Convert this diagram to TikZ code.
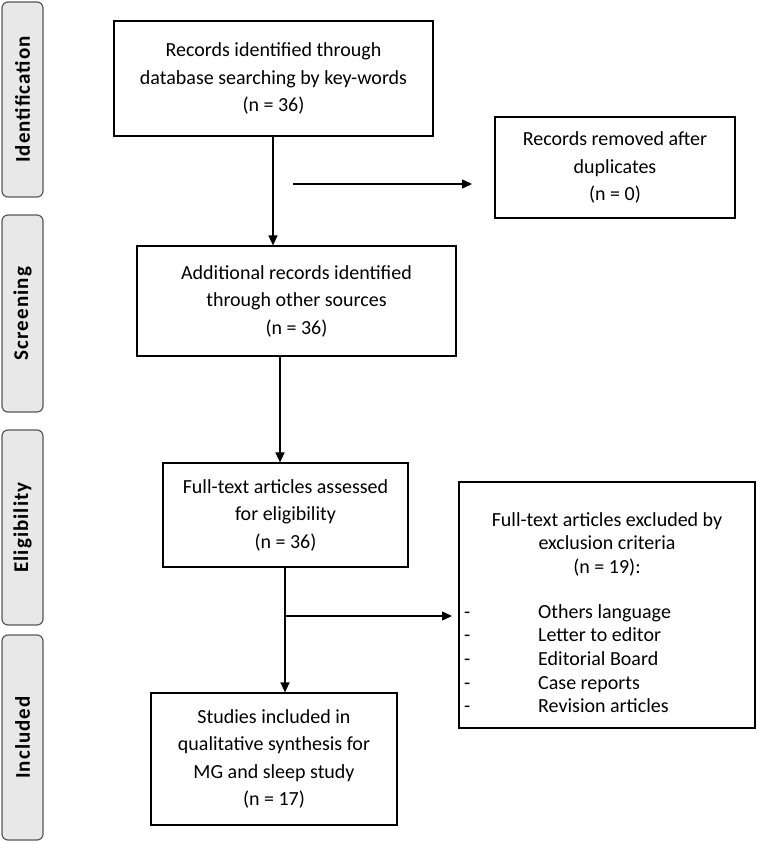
\documentclass[tikz,border=0pt]{standalone}
\usepackage{fontspec}
\setmainfont{Carlito}
\newfontfamily\phasefont[LetterSpace=5]{Carlito}
\usetikzlibrary{arrows.meta}
\begin{document}
\begin{tikzpicture}[x=1pt,y=-1pt,
  box/.style={draw=black,line width=1.2pt,align=center,inner sep=0pt,font=\fontsize{20}{27.5}\selectfont},
  phase/.style={draw=black!65,fill=black!9,line width=1.2pt,rounded corners=6pt,rotate=90,inner sep=0pt,minimum height=41pt,font=\phasefont\bfseries\fontsize{21}{24}\selectfont},
  txt/.style={inner sep=0pt,font=\fontsize{20}{23.7}\selectfont},
  arr/.style={line width=1.4pt,-{Triangle[length=10pt,width=9pt]}}]
\useasboundingbox (0,0) rectangle (756,842);
% phase labels
\node[phase,minimum width=195pt] (pid) at (22.5,99.5) {Identification};
\node[phase,minimum width=197pt] (psc) at (22.5,313.5) {Screening};
\node[phase,minimum width=195pt] (pel) at (22.5,527.5) {Eligibility};
\node[phase,minimum width=205pt] (pin) at (22.5,737.5) {Included};
% boxes
\node[box,minimum width=319pt,minimum height=115pt] (b1) at (273.5,78.5) {Records identified through\\database searching by key-words\\(n = 36)};
\node[box,minimum width=240pt,minimum height=101pt] (dup) at (615,167.5) {Records removed after\\duplicates\\(n = 0)};
\node[box,minimum width=319pt,minimum height=110pt] (scr) at (296.5,301) {Additional records identified\\through other sources\\(n = 36)};
\node[box,minimum width=245pt,minimum height=104pt] (elig) at (285.5,515) {Full-text articles assessed\\for eligibility\\(n = 36)};
\node[box,minimum width=296pt,minimum height=246pt] (excl) at (607,605) {};
\node[txt,align=center,anchor=north] (exh) at (607,512) {Full-text articles excluded by\\exclusion criteria\\(n = 19):};
\node[txt,align=left,anchor=north west] (exl) at (461,604) {\makebox[77pt][l]{\hspace{3pt}-}Others language\\\makebox[77pt][l]{\hspace{3pt}-}Letter to editor\\\makebox[77pt][l]{\hspace{3pt}-}Editorial Board\\\makebox[77pt][l]{\hspace{3pt}-}Case reports\\\makebox[77pt][l]{\hspace{3pt}-}Revision articles};
\node[box,minimum width=246pt,minimum height=132pt] (incl) at (274,759) {Studies included in\\qualitative synthesis for\\MG and sleep study\\(n = 17)};
% connectors
\coordinate (v1) at (273,0);
\coordinate (h1a) at (293,184);
\coordinate (h1b) at (472,184);
\coordinate (s2) at (280,356);
\coordinate (br) at (285,616);
\coordinate (brb) at (452,616);
\draw[arr] (b1.south -| v1) -- (v1 |- scr.north);
\draw[arr] (h1a) -- (h1b);
\draw[arr] (s2) -- (s2 |- elig.north);
\draw[arr] (elig.south -| br) -- (br |- incl.north);
\draw[arr] (br) -- (brb);
\end{tikzpicture}
\end{document}
